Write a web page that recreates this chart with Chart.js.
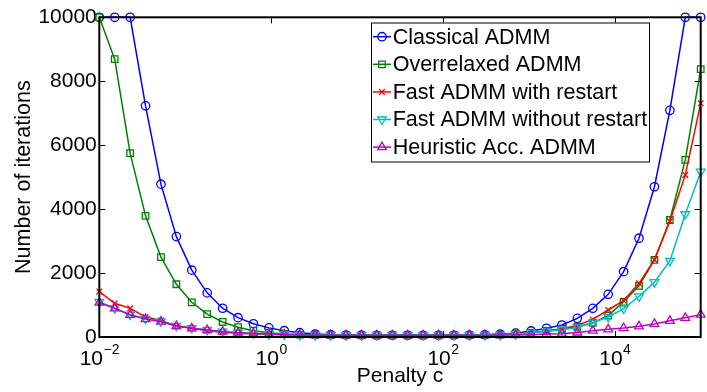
<!DOCTYPE html>
<html><head><meta charset="utf-8">
<script src="https://cdn.jsdelivr.net/npm/chart.js@4.4.1/dist/chart.umd.min.js"></script>
<style>html,body{margin:0;padding:0;background:#fff;overflow:hidden}</style>
</head><body>
<canvas id="c" width="707" height="392"></canvas>
<script>
// Penalty values (logspace from 1e-2 to 1e5, 40 points)
const penalty = [0.01, 0.01512, 0.02285, 0.03453, 0.05219, 0.07889, 0.1192, 0.1802, 0.2724, 0.4118,
  0.6223, 0.9427, 1.425, 2.154, 3.256, 4.922, 7.440, 11.25, 17.00, 25.71,
  38.86, 58.74, 88.86, 134.3, 203.1, 307.0, 464.2, 701.6, 1061, 1604,
  2424, 3665, 5541, 8377, 12663, 19144, 28943, 43755, 66147, 100000];

const classical = [10000, 10000, 10000, 7230, 4780, 3140, 2090, 1380, 900, 604,
  415, 285, 197, 135, 94, 72, 62, 57, 55, 53,
  52, 52, 53, 55, 60, 68, 90, 120, 190, 272,
  375, 584, 897, 1335, 2043, 3090, 4700, 7090, 10000, 10000];

const overrelaxed = [10000, 8690, 5750, 3790, 2500, 1650, 1085, 715, 470, 308,
  197, 135, 94, 75, 65, 60, 57, 56, 55, 55,
  55, 55, 56, 57, 58, 62, 72, 90, 130, 190,
  250, 320, 440, 670, 1100, 1600, 2410, 3660, 5540, 8380];

const fastRestart = [1420, 1054, 897, 625, 520, 344, 272, 197, 150, 116,
  95, 80, 70, 65, 60, 58, 57, 56, 55, 55,
  55, 55, 56, 57, 62, 68, 80, 100, 135, 190,
  260, 360, 550, 845, 1140, 1680, 2420, 3620, 5070, 7310];

const fastNoRestart = [1100, 900, 700, 570, 490, 350, 280, 220, 170, 135,
  110, 90, 78, 68, 60, 57, 56, 55, 55, 55,
  55, 55, 56, 57, 60, 62, 68, 90, 130, 180,
  230, 300, 450, 625, 890, 1270, 1715, 2380, 3840, 5170];

const heuristic = [1073, 897, 690, 560, 480, 344, 272, 219, 166, 135,
  110, 90, 75, 65, 58, 56, 55, 55, 55, 55,
  55, 55, 55, 56, 57, 58, 60, 62, 72, 90,
  105, 140, 197, 240, 280, 333, 410, 505, 600, 700];

const seriesNames = ['Classical ADMM', 'Overrelaxed ADMM', 'Fast ADMM with restart', 'Fast ADMM without restart', 'Heuristic Acc. ADMM'];
const yTickValues = [0, 2000, 4000, 6000, 8000, 10000];
const xTickExponents = [-2, 0, 2, 4];

const FONT = '"Liberation Sans", Arial, Helvetica, sans-serif';
const styles = [
  {color: '#0000FF', pointStyle: 'circle', radius: 4.2, rotation: 0},
  {color: '#008000', pointStyle: 'rect', radius: 4.6, rotation: 0},
  {color: '#FF0000', pointStyle: 'crossRot', radius: 4, rotation: 0},
  {color: '#00BFBF', pointStyle: 'triangle', radius: 5, rotation: 180},
  {color: '#BF00BF', pointStyle: 'triangle', radius: 5, rotation: 0}
];
const seriesData = [classical, overrelaxed, fastRestart, fastNoRestart, heuristic];

const datasets = seriesData.map((vals, k) => ({
  label: seriesNames[k],
  data: vals.map((v, i) => ({x: penalty[i], y: v})),
  borderColor: styles[k].color,
  backgroundColor: 'rgba(0,0,0,0)',
  borderWidth: 1.5,
  pointStyle: styles[k].pointStyle,
  pointRadius: styles[k].radius,
  pointRotation: styles[k].rotation,
  pointBorderColor: styles[k].color,
  pointBackgroundColor: 'rgba(0,0,0,0)',
  pointBorderWidth: 1.3,
  tension: 0,
  clip: false,
  order: 5 - k
}));

const frameAndLegend = {
  id: 'frameAndLegend',
  afterDatasetsDraw(chart) {
    const {ctx, chartArea: a, scales: {x, y}} = chart;
    ctx.save();
    // box
    ctx.strokeStyle = '#000';
    ctx.lineWidth = 2;
    ctx.strokeRect(a.left, a.top, a.right - a.left, a.bottom - a.top);
    // inner ticks
    ctx.lineWidth = 1;
    ctx.beginPath();
    yTickValues.forEach(v => {
      const py = Math.round(y.getPixelForValue(v)) + 0.5;
      ctx.moveTo(a.left, py); ctx.lineTo(a.left + 6, py);
      ctx.moveTo(a.right, py); ctx.lineTo(a.right - 6, py);
    });
    xTickExponents.forEach(e => {
      const px = Math.round(x.getPixelForValue(Math.pow(10, e))) + 0.5;
      ctx.moveTo(px, a.bottom); ctx.lineTo(px, a.bottom - 6);
      ctx.moveTo(px, a.top); ctx.lineTo(px, a.top + 6);
    });
    ctx.stroke();
    // x tick labels with superscripts
    ctx.fillStyle = '#000';
    ctx.textBaseline = 'alphabetic';
    ctx.textAlign = 'left';
    xTickExponents.forEach(e => {
      const px = x.getPixelForValue(Math.pow(10, e));
      const base = '10';
      const ex = (e < 0 ? '\u2212' : '') + Math.abs(e);
      ctx.font = '21px ' + FONT;
      const w1 = ctx.measureText(base).width;
      ctx.font = '14px ' + FONT;
      const w2 = ctx.measureText(ex).width;
      const start = px - (w1 + w2) / 2;
      ctx.font = '21px ' + FONT;
      ctx.fillText(base, start, 365);
      ctx.font = '14px ' + FONT;
      ctx.fillText(ex, start + w1 + 0.5, 354);
    });
    // legend
    const lx = 371, ly = 22.5, lw = 278, lh = 139;
    ctx.fillStyle = '#fff';
    ctx.fillRect(lx, ly, lw, lh);
    ctx.strokeStyle = '#000';
    ctx.lineWidth = 1;
    ctx.strokeRect(lx + 0.5, ly + 0.5, lw, lh);
    seriesNames.forEach((name, k) => {
      const cy = 36.7 + k * 27.6;
      const st = styles[k];
      ctx.strokeStyle = st.color;
      ctx.lineWidth = 1.5;
      ctx.beginPath();
      ctx.moveTo(373, cy); ctx.lineTo(391, cy);
      ctx.stroke();
      ctx.fillStyle = 'rgba(0,0,0,0)';
      ctx.lineWidth = 1.3;
      Chart.helpers.drawPoint(ctx, {pointStyle: st.pointStyle, radius: st.radius, rotation: st.rotation, borderWidth: 1.3}, 382, cy);
      ctx.fillStyle = '#000';
      ctx.font = '21.5px ' + FONT;
      ctx.textBaseline = 'middle';
      ctx.textAlign = 'left';
      ctx.fillText(name, 392.7, cy + 1);
    });
    ctx.restore();
  }
};

new Chart(document.getElementById('c'), {
  type: 'line',
  data: {datasets},
  options: {
    responsive: false,
    animation: false,
    layout: {padding: {left: 10.7, top: 17.3, right: 5.3, bottom: 3.4}},
    plugins: {legend: {display: false}, tooltip: {enabled: false}},
    scales: {
      x: {
        type: 'logarithmic', min: 0.01, max: 100000,
        grid: {display: false, drawTicks: false},
        border: {display: false},
        ticks: {display: false},
        title: {display: true, text: 'Penalty c', color: '#000', padding: 0, font: {size: 21, family: FONT}},
        afterFit: s => { s.height = 392 - 3.4 - 337; }
      },
      y: {
        min: 0, max: 10000,
        grid: {display: false, drawTicks: false},
        border: {display: false},
        ticks: {
          stepSize: 2000, color: '#000', padding: 2.5,
          font: {size: 21, family: FONT},
          callback: v => yTickValues.includes(v) ? String(v) : ''
        },
        title: {display: true, text: 'Number of iterations', color: '#000', padding: 0, font: {size: 21.5, family: FONT}},
        afterFit: s => { s.width = 99.3 - 10.7; }
      }
    }
  },
  plugins: [frameAndLegend]
});
</script>
</body></html>
